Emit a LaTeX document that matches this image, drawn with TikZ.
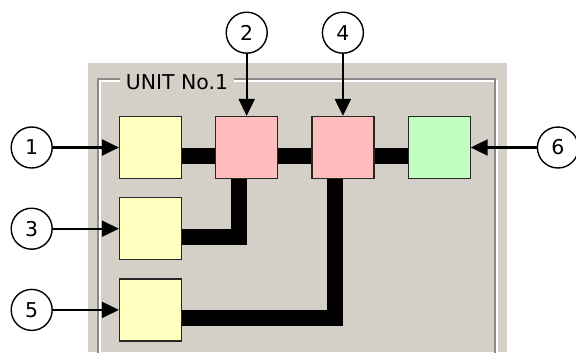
\documentclass[tikz,border=0pt]{standalone}
\usepackage{fontspec}
\setmainfont{DejaVu Sans}
\usetikzlibrary{positioning, arrows.meta}

\definecolor{panelgray}{HTML}{D4D0C8}
\definecolor{framegray}{HTML}{8A8A8A}
\definecolor{unityellow}{HTML}{FFFFC0}
\definecolor{unitpink}{HTML}{FFBCBC}
\definecolor{unitgreen}{HTML}{C0FFC0}

\begin{document}
\begin{tikzpicture}[x=1bp, y=-1bp, node distance=33bp]
	% styles
	\tikzstyle{unit} = [rectangle, draw=black!85, line width=1.2bp, minimum size=62bp, inner sep=0pt]
	\tikzstyle{num} = [circle, draw, line width=1.4bp, minimum size=41bp, inner sep=0pt, font=\fontsize{20.5}{20.5}\selectfont]
	\tikzstyle{bus} = [line width=16bp, line join=miter]
	\tikzstyle{arrow} = [line width=2.2bp, -{Triangle[length=17bp, width=16bp]}]

	\useasboundingbox (0,0) rectangle (576,352);

	% panel and etched frame
	\fill[panelgray] (88,63) rectangle (507,352);
	\draw[white, line width=1.3bp] (100,360) |- (497,81) -- (497,360);
	\draw[framegray, line width=1.3bp] (98,360) |- (495,79) -- (495,360);
	\node[fill=panelgray, inner xsep=6bp, inner ysep=2bp, font=\fontsize{20.5}{20.5}\selectfont] (title) at (177,82) {UNIT No.1};

	% units
	\node[unit, fill=unityellow] (in1) at (150.5,147.5) {};
	\node[unit, fill=unitpink, right=of in1] (mix2) {};
	\node[unit, fill=unitpink, right=of mix2] (mix4) {};
	\node[unit, fill=unitgreen, right=of mix4] (out6) {};
	\node[unit, fill=unityellow, below=18bp of in1] (in3) {};
	\node[unit, fill=unityellow, below=18bp of in3] (in5) {};

	% numbered callouts
	\node[num, left=66bp of in1] (c1) {1};
	\node[num, above=62bp of mix2] (c2) {2};
	\node[num, left=66bp of in3] (c3) {3};
	\node[num, above=62bp of mix4] (c4) {4};
	\node[num, left=66bp of in5] (c5) {5};
	\node[num, right=66bp of out6] (c6) {6};

	% bus lines
	\draw[bus] ([yshift=-8bp]in1.east) -- ([yshift=-8bp]mix2.west);
	\draw[bus] ([yshift=-8bp]mix2.east) -- ([yshift=-8bp]mix4.west);
	\draw[bus] ([yshift=-8bp]mix4.east) -- ([yshift=-8bp]out6.west);
	\draw[bus] ([yshift=-8bp]in3.east) -| ([xshift=-8bp]mix2.south);
	\draw[bus] ([yshift=-8bp]in5.east) -| ([xshift=-8bp]mix4.south);

	% arrows
	\draw[arrow] (c1) -- (in1);
	\draw[arrow] (c2) -- (mix2);
	\draw[arrow] (c3) -- (in3);
	\draw[arrow] (c4) -- (mix4);
	\draw[arrow] (c5) -- (in5);
	\draw[arrow] (c6) -- (out6);
\end{tikzpicture}
\end{document}
